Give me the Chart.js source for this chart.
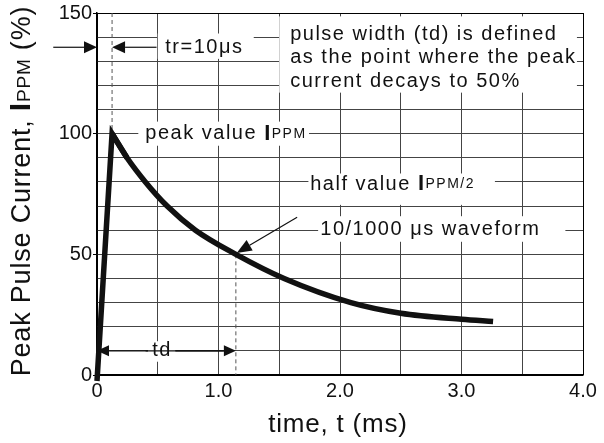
<!DOCTYPE html>
<html>
<head>
<meta charset="utf-8">
<script src="https://cdn.jsdelivr.net/npm/chart.js@4.4.1/dist/chart.umd.min.js"></script>
<style>
  html, body { margin: 0; padding: 0; background: #fff; }
  #wrap { width: 604px; height: 443px; }
</style>
</head>
<body>
<div id="wrap"><canvas id="chart" width="604" height="443"></canvas></div>
<script>
// 10/1000 us pulse waveform
const riseTime = [0, 0.124, 0.247];
const riseCurrent = [-2.5, 100, 90];
const decayTime = [0.124, 0.247, 0.398, 0.577, 0.81, 1.143, 1.54, 2.09, 2.5, 3.0, 3.26];
const decayCurrent = [100, 90, 80, 70, 60, 50, 40, 30, 25.6, 23.1, 22.2];
const xLabels = [0, 1, 2, 3, 4];
const yLabels = [0, 50, 100, 150];

const FONT = "'Liberation Sans', Arial, sans-serif";
const INK = '#111';

const toPoints = (xs, ys) => xs.map((x, i) => ({ x, y: ys[i] }));

function arrow(ctx, x1, y1, x2, y2, len, half) {
  const a = Math.atan2(y2 - y1, x2 - x1);
  const bx = x2 - len * Math.cos(a), by = y2 - len * Math.sin(a);
  ctx.beginPath();
  ctx.moveTo(x1, y1);
  ctx.lineTo(bx, by);
  ctx.stroke();
  ctx.beginPath();
  ctx.moveTo(x2, y2);
  ctx.lineTo(bx + half * Math.sin(a), by - half * Math.cos(a));
  ctx.lineTo(bx - half * Math.sin(a), by + half * Math.cos(a));
  ctx.closePath();
  ctx.fill();
}

// draw text pieces in a row, each with its own font
function runs(ctx, parts, x, y) {
  for (const [t, f] of parts) {
    ctx.font = f;
    ctx.fillText(t, x, y);
    x += ctx.measureText(t).width;
  }
  return x;
}

const notes = {
  id: 'notes',
  beforeDatasetsDraw(chart) {
    const { ctx } = chart;
    const X = v => chart.scales.x.getPixelForValue(v);
    const Y = v => chart.scales.y.getPixelForValue(v);
    const box = (x1, y1, x2, y2) => ctx.fillRect(X(x1), Y(y2), X(x2) - X(x1), Y(y1) - Y(y2));
    ctx.save();
    ctx.fillStyle = '#fff';
    box(1.5, 117, 3.95, 148.6);   // pulse width text
    box(0.5, 131, 1.29, 141.5);   // tr
    box(0.34, 95, 1.745, 105);    // peak value
    box(1.74, 70.5, 3.275, 83.5); // half value
    box(1.82, 55.2, 3.855, 65.8); // waveform
    box(0.42, 5.5, 0.645, 14);    // td

    // dashed guides
    ctx.strokeStyle = '#555';
    ctx.lineWidth = 1;
    ctx.setLineDash([4, 3]);
    ctx.beginPath();
    ctx.moveTo(X(0.124), Y(150));
    ctx.lineTo(X(0.124), Y(100));
    ctx.moveTo(X(1.143), Y(50));
    ctx.lineTo(X(1.143), Y(0));
    ctx.stroke();
    ctx.restore();
  },
  afterDatasetsDraw(chart) {
    const { ctx } = chart;
    const X = v => chart.scales.x.getPixelForValue(v);
    const Y = v => chart.scales.y.getPixelForValue(v);
    ctx.save();
    ctx.fillStyle = INK;
    ctx.strokeStyle = INK;
    ctx.textBaseline = 'alphabetic';
    ctx.letterSpacing = '1.5px';
    const f = '20px ' + FONT;
    const big = 'bold 22px ' + FONT;
    const sm = '14px ' + FONT;

    ctx.font = f;
    ['pulse width (td) is defined', 'as the point where the peak', 'current decays to 50%']
      .forEach((s, i) => ctx.fillText(s, X(1.59), Y(139) + i * 23.7));

    ctx.textBaseline = 'middle';
    ctx.fillText('tr=10\u03bcs', X(0.562), Y(135.8));
    runs(ctx, [['peak value ', f], ['I', big], ['PPM', sm]], X(0.398), Y(100));
    runs(ctx, [['half value ', f], ['I', big], ['PPM/2', sm]], X(1.755), Y(79.1));
    ctx.font = f;
    ctx.fillText('10/1000 \u03bcs waveform', X(1.838), Y(60.5));
    ctx.textAlign = 'center';
    ctx.fillText('td', X(0.535), Y(10));
    ctx.textAlign = 'left';

    // arrows
    ctx.lineWidth = 1.2;
    arrow(ctx, X(-0.36), Y(135.8), X(0), Y(135.8), 13, 6);
    arrow(ctx, X(0.49), Y(135.8), X(0.124), Y(135.8), 13, 6);
    arrow(ctx, X(0.1), Y(10), X(0), Y(10), 12, 5.5);
    arrow(ctx, X(0.4), Y(10), X(1.143), Y(10), 12, 5.5);
    ctx.beginPath();
    ctx.moveTo(X(0.1), Y(10));
    ctx.lineTo(X(0.42), Y(10));
    ctx.moveTo(X(0.645), Y(10));
    ctx.lineTo(X(1.05), Y(10));
    ctx.stroke();
    arrow(ctx, X(1.647), Y(65.4), X(1.15), Y(50.6), 15, 6);

    // axis titles
    ctx.letterSpacing = '0.8px';
    ctx.textBaseline = 'alphabetic';
    ctx.font = '26px ' + FONT;
    ctx.textAlign = 'center';
    ctx.fillText('time, t (ms)', 338, 432);
    ctx.textAlign = 'left';

    ctx.translate(30, 191);
    ctx.rotate(-Math.PI / 2);
    const yParts = [['Peak Pulse Current, ', '27px ' + FONT], ['I', 'bold 30px ' + FONT],
      ['PPM', '19px ' + FONT], [' (%)', '27px ' + FONT]];
    let w = 0;
    for (const [t, ft] of yParts) { ctx.font = ft; w += ctx.measureText(t).width; }
    runs(ctx, yParts, -w / 2, 0);
    ctx.restore();
  }
};

new Chart(document.getElementById('chart'), {
  type: 'line',
  data: {
    datasets: [
      {
        data: toPoints(riseTime, riseCurrent),
        borderColor: '#111',
        borderWidth: 5.5,
        borderJoinStyle: 'miter',
        pointRadius: 0,
        tension: 0,
        clip: false,
      },
      {
        data: toPoints(decayTime, decayCurrent),
        borderColor: '#111',
        borderWidth: 5.5,
        pointRadius: 0,
        cubicInterpolationMode: 'monotone',
        clip: false,
      },
    ],
  },
  options: {
    responsive: false,
    animation: false,
    events: [],
    layout: { padding: { top: 12, right: 21, left: 0, bottom: 0 } },
    plugins: { legend: { display: false }, tooltip: { enabled: false } },
    scales: {
      x: {
        type: 'linear',
        min: 0,
        max: 4,
        afterFit: s => { s.height = 68; },
        afterBuildTicks: s => { s.ticks = Array.from({ length: 9 }, (_, i) => ({ value: i * 0.5 })); },
        grid: {
          color: c => (c.tick && (c.tick.value === 0 || c.tick.value === 4) ? '#000' : '#444'),
          lineWidth: 1,
          drawTicks: false,
        },
        border: { color: '#000', width: 1.5 },
        ticks: {
          color: INK,
          padding: 4,
          maxRotation: 0,
          autoSkip: false,
          font: { family: FONT, size: 20 },
          callback: v => (xLabels.includes(v) ? (v === 0 ? '0' : v.toFixed(1)) : ''),
        },
      },
      y: {
        min: 0,
        max: 150,
        afterFit: s => { s.width = 97; },
        afterBuildTicks: s => { s.ticks = Array.from({ length: 16 }, (_, i) => ({ value: i * 10 })); },
        grid: {
          color: c => (c.tick && (c.tick.value === 0 || c.tick.value === 150) ? '#000' : '#444'),
          tickColor: c => (c.tick && yLabels.includes(c.tick.value) ? '#000' : 'rgba(0,0,0,0)'),
          tickLength: 4,
          lineWidth: 1,
        },
        border: { color: '#000', width: 1.5 },
        ticks: {
          color: INK,
          padding: 1,
          autoSkip: false,
          font: { family: FONT, size: 20 },
          callback: v => (yLabels.includes(v) ? String(v) : ''),
        },
      },
    },
  },
  plugins: [notes],
});
</script>
</body>
</html>
